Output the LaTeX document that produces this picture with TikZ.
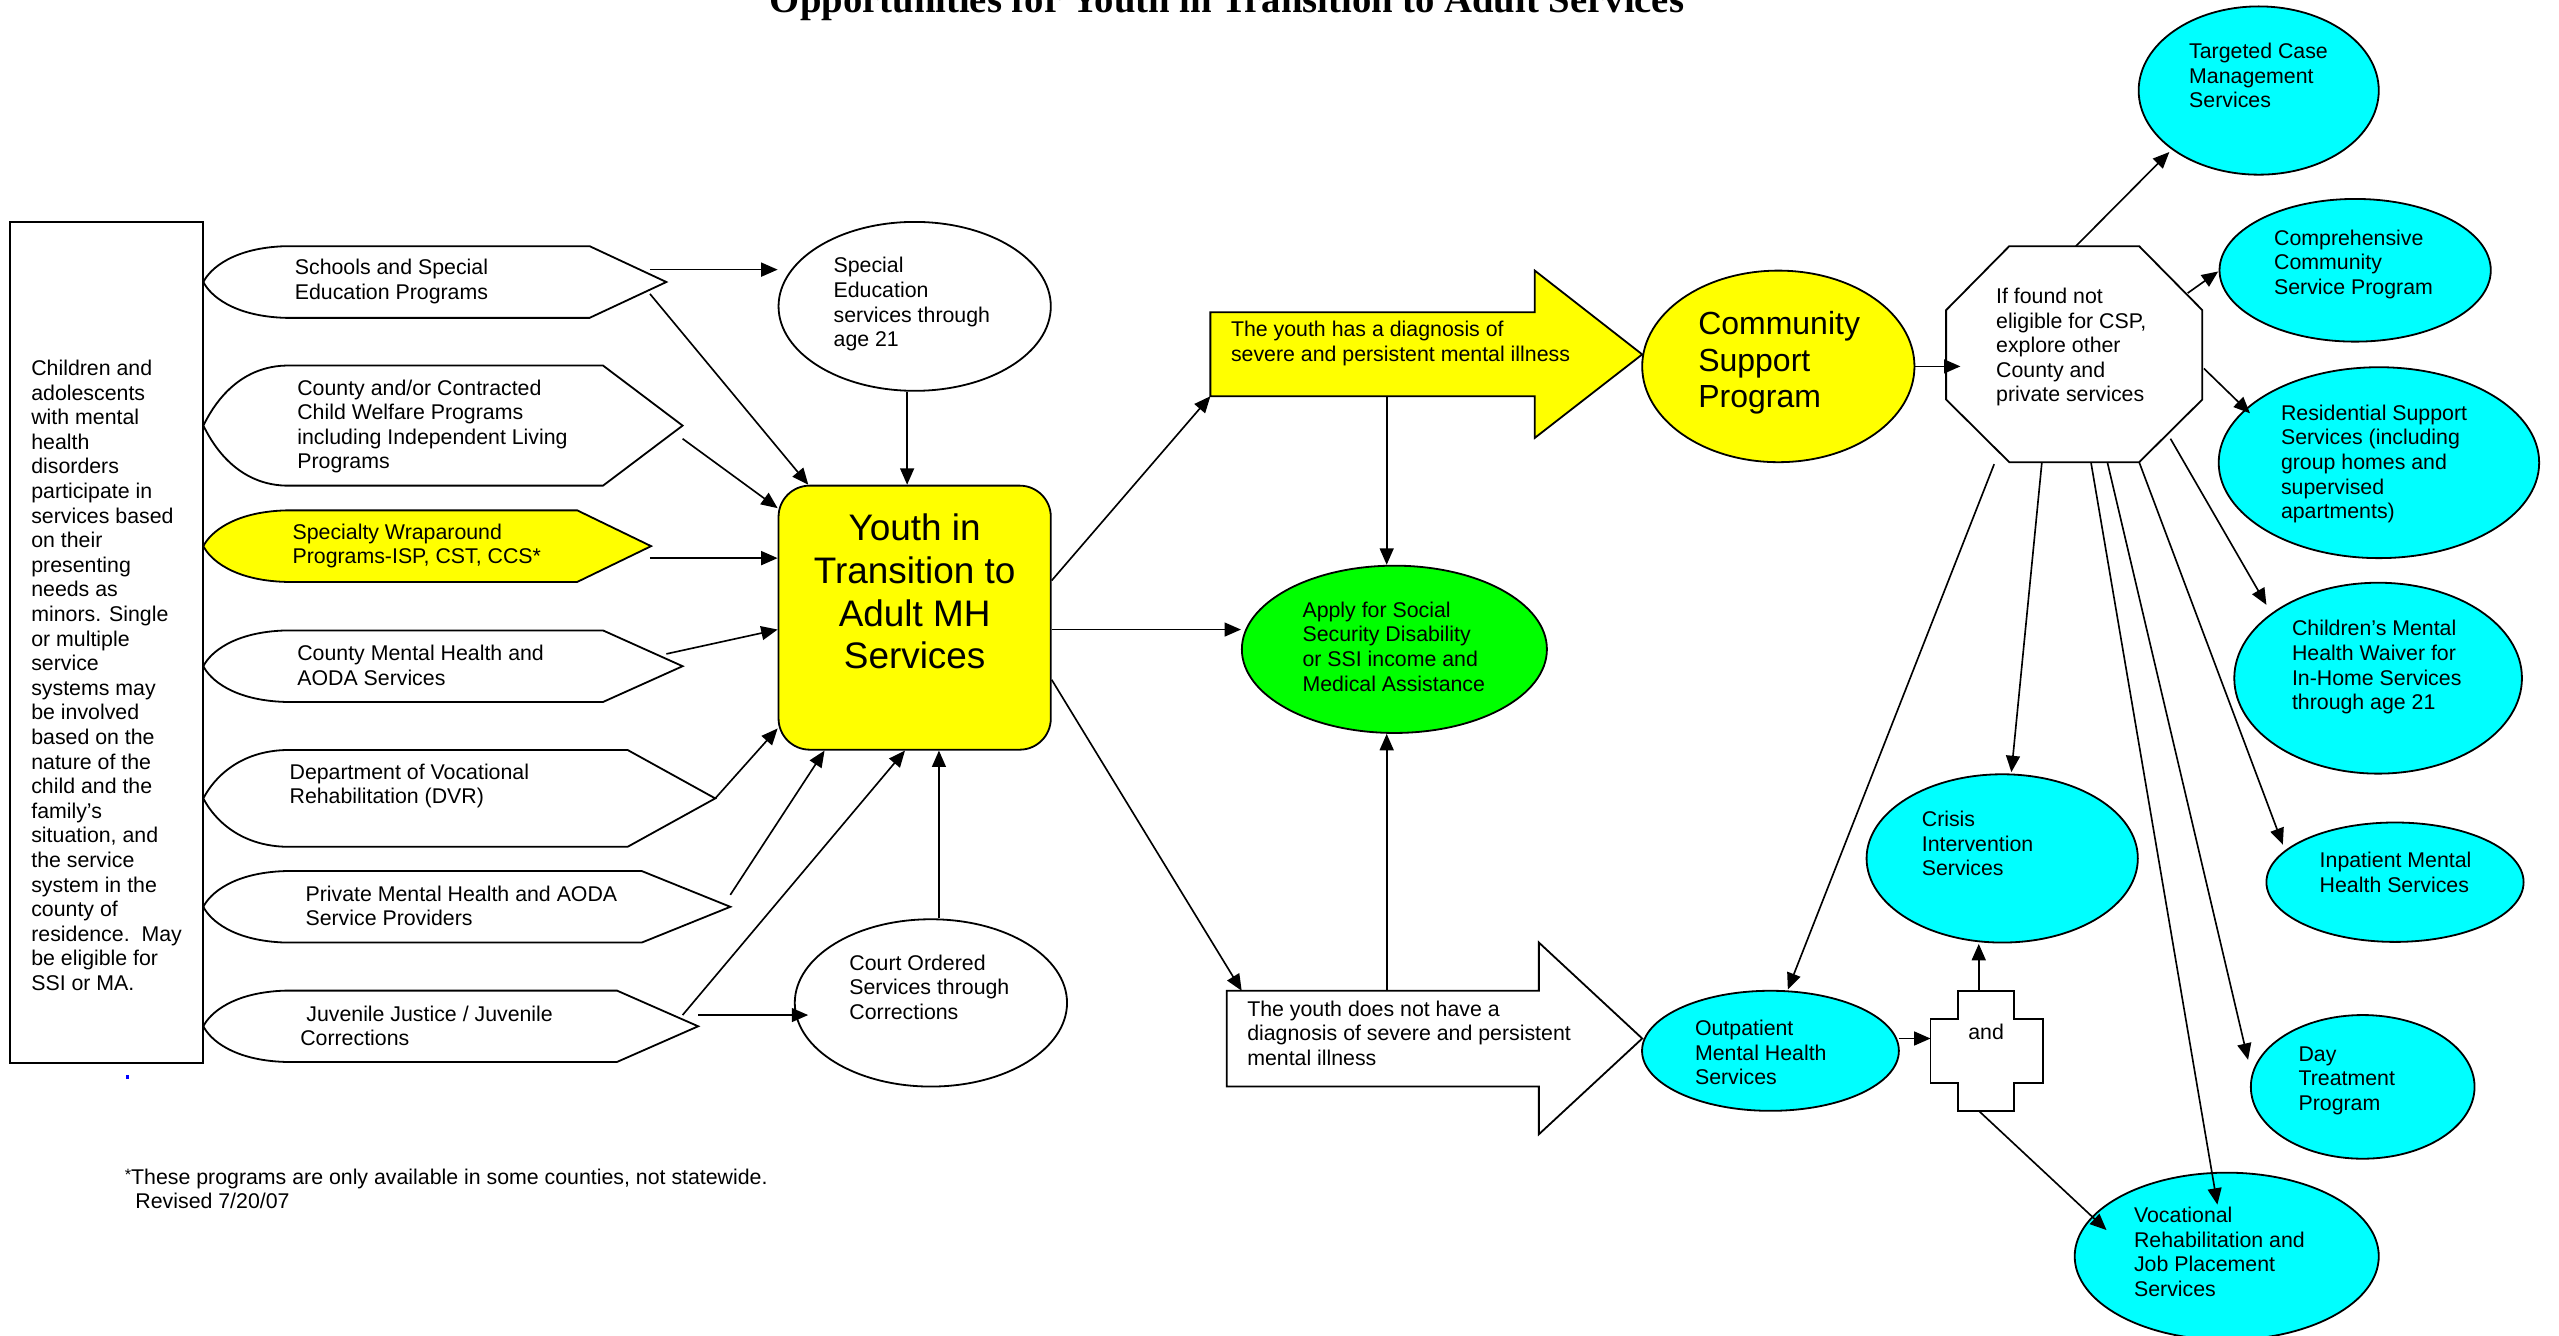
\documentclass[tikz,border=0pt]{standalone}
\usepackage{fontspec}
\setmainfont{Liberation Sans}
\newfontfamily\titlefont{Liberation Serif}
\usetikzlibrary{shapes.geometric,arrows.meta,calc}
\definecolor{ylw}{RGB}{255,255,0}
\definecolor{grn}{RGB}{0,255,0}
\definecolor{cyn}{RGB}{0,255,255}
\newcommand{\drawinshape}[6]{%
  \filldraw[shp, fill=#6] (#4,#2) -- ({#1+50},#2)
    .. controls ({#1+18},{#2+1}) and ({#1+4},{(#2+#3)/2-8}) .. (#1,{(#2+#3)/2})
    .. controls ({#1+4},{(#2+#3)/2+8}) and ({#1+18},{#3-1}) .. ({#1+50},#3)
    -- (#4,#3) -- (#5,{(#2+#3)/2}) -- cycle;}
\begin{document}
\begin{tikzpicture}[x=1pt,y=-1pt,
  txt/.style={align=left,inner sep=0pt,anchor=west,font=\fontsize{13}{15}\selectfont},
  ell/.style={ellipse,draw=black,line width=1.1pt,inner sep=0pt},
  arr/.style={-{Triangle[length=10pt,width=8.5pt]},line width=1pt},
  shp/.style={draw=black,line width=1.1pt,line join=miter}]
\useasboundingbox (0,0) rectangle (1560.3,814);

% title
\node[font=\titlefont\bfseries\fontsize{23.6}{28}\selectfont,anchor=base,inner sep=0pt] (title) at (748.2,7.5) {Opportunities for Youth in Transition to Adult Services};

% left box
\node[draw,line width=1.1pt,minimum width=117.7pt,minimum height=512.7pt,inner sep=0pt] (lbox) at (65.05,391.65) {};
\node[txt] (lboxt) at (18.9,411.8) {Children and\\adolescents\\with mental\\health\\disorders\\participate in\\services based\\on their\\presenting\\needs as\\minors. Single\\or multiple\\service\\systems may\\be involved\\based on the\\nature of the\\child and the\\family’s\\situation, and\\the service\\system in the\\county of\\residence.\ \ May\\be eligible for\\SSI or MA.};
\fill[blue] (76.8,655.6) rectangle (78.4,657.6);

% left input shapes
\drawinshape{124}{150.1}{193.8}{359.5}{406.3}{white}
\drawinshape{124}{222.9}{296.1}{367.7}{416.2}{white}
\drawinshape{124}{311.2}{354.8}{352}{397}{ylw}
\drawinshape{124}{384.4}{428}{367.7}{416.2}{white}
\drawinshape{124}{457.3}{516.3}{382.7}{436.1}{white}
\drawinshape{124}{531.1}{574.7}{391.3}{445.3}{white}
\drawinshape{124}{604}{647.5}{376.2}{425.7}{white}
\node[txt] (s1t) at (179.6,171.8) {Schools and Special\\Education Programs};
\node[txt] (s2t) at (181.1,260) {County and/or Contracted\\Child Welfare Programs\\including Independent Living\\Programs};
\node[txt] (s3t) at (178.2,332.9) {Specialty Wraparound\\Programs-ISP, CST, CCS*};
\node[txt] (s4t) at (181.1,405.8) {County Mental Health and\\AODA Services};
\node[txt] (s5t) at (176.4,479.2) {Department of Vocational\\Rehabilitation (DVR)};
\node[txt] (s6t) at (186.1,552.3) {Private Mental Health and AODA\\Service Providers};
\node[txt] (s7t) at (182.9,625.4) {\hspace{3.7pt}Juvenile Justice / Juvenile\\Corrections};

% central nodes
\node[ell,fill=white,minimum width=166pt,minimum height=103pt] (spec) at (557.7,186.8) {};
\node[txt] (spect) at (508.1,185.5) {Special\\Education\\services through\\age 21};
\node[ell,fill=white,minimum width=166pt,minimum height=102pt] (court) at (567.6,611.5) {};
\node[txt] (courtt) at (517.7,602) {Court Ordered\\Services through\\Corrections};
\node[draw,line width=1.1pt,fill=ylw,rounded corners=19pt,minimum width=166pt,minimum height=161pt,inner sep=0pt] (youth) at (557.7,376.6) {};
\node[font=\fontsize{22.5}{26}\selectfont,align=center,inner sep=0pt] (youtht) at (557.7,360.8) {Youth in\\Transition to\\Adult MH\\Services};

% block arrows
\filldraw[shp,fill=ylw] (738,190.4) -- (935.8,190.4) -- (935.8,165) -- (1001.3,216.1) -- (935.8,267) -- (935.8,241.6) -- (738,241.6) -- cycle;
\node[txt] (spmit) at (750.4,209.4) {The youth has a diagnosis of\\severe and persistent mental illness};
\filldraw[shp,fill=white] (748,604.1) -- (938.3,604.1) -- (938.3,574.7) -- (1001.3,633.2) -- (938.3,691.6) -- (938.3,662.5) -- (748,662.5) -- cycle;
\node[txt] (nspmit) at (760.3,630) {The youth does not have a\\diagnosis of severe and persistent\\mental illness};

\node[ell,fill=grn,minimum width=186pt,minimum height=102pt] (apply) at (850.2,395.9) {};
\node[txt] (applyt) at (794,394.2) {Apply for Social\\Security Disability\\or SSI income and\\Medical Assistance};

\node[ell,fill=ylw,minimum width=166pt,minimum height=116.8pt] (csp) at (1084.3,223.4) {};
\node[txt,font=\fontsize{19.5}{22.4}\selectfont] (cspt) at (1035.3,221.2) {Community\\Support\\Program};

% octagon
\filldraw[shp,fill=white] (1225.1,150.1) -- (1304.3,150.1) -- (1342.8,189.1) -- (1342.8,243.6) -- (1304.3,281.8) -- (1225.1,281.8) -- (1186.6,243.6) -- (1186.6,189.1) -- cycle;
\node[txt] (octt) at (1216.9,211.7) {If found not\\eligible for CSP,\\explore other\\County and\\private services};

% service ellipses
\node[ell,fill=cyn,minimum width=146.4pt,minimum height=102.6pt] (tcm) at (1377.2,55.2) {};
\node[txt] (tcmt) at (1334.6,46.1) {Targeted Case\\Management\\Services};
\node[ell,fill=cyn,minimum width=165.4pt,minimum height=87pt] (ccs) at (1436,164.8) {};
\node[txt] (ccst) at (1386.4,161.2) {Comprehensive\\Community\\Service Program};
\node[ell,fill=cyn,minimum width=195.4pt,minimum height=116.4pt] (res) at (1450.5,282.1) {};
\node[txt] (rest) at (1390.6,282.9) {Residential Support\\Services (including\\group homes and\\supervised\\apartments)};
\node[ell,fill=cyn,minimum width=175.4pt,minimum height=116.4pt] (cmhw) at (1450,413.5) {};
\node[txt] (cmhwt) at (1397.3,406.9) {Children’s Mental\\Health Waiver for\\In-Home Services\\through age 21};
\node[ell,fill=cyn,minimum width=156.8pt,minimum height=72.8pt] (inpat) at (1460.3,537.9) {};
\node[txt] (inpatt) at (1414.2,531.9) {Inpatient Mental\\Health Services};
\node[ell,fill=cyn,minimum width=136.4pt,minimum height=87.6pt] (day) at (1440.6,662.7) {};
\node[txt] (dayt) at (1401.3,659) {Day\\Treatment\\Program};
\node[ell,fill=cyn,minimum width=185.4pt,minimum height=102pt] (voc) at (1357.7,766) {};
\node[txt] (voct) at (1301,763.4) {Vocational\\Rehabilitation and\\Job Placement\\Services};
\node[ell,fill=cyn,minimum width=165.4pt,minimum height=102.6pt] (crisis) at (1220.8,523.4) {};
\node[txt] (crisist) at (1171.6,514.4) {Crisis\\Intervention\\Services};
\node[ell,fill=cyn,minimum width=156.6pt,minimum height=73.2pt] (outp) at (1079.5,640.7) {};
\node[txt] (outpt) at (1033.3,641.7) {Outpatient\\Mental Health\\Services};

% and cross
\filldraw[shp,fill=white] (1194,604.1) -- (1228.1,604.1) -- (1228.1,621.5) -- (1245.5,621.5) -- (1245.5,660.4) -- (1228.1,660.4) -- (1228.1,677.3) -- (1194,677.3) -- (1194,660.4) -- (1177.1,660.4) -- (1177.1,621.5) -- (1194,621.5) -- cycle;
\node[font=\fontsize{13}{15}\selectfont,inner sep=0pt] (andt) at (1211,629.3) {and};

% footnote
\node[txt] (foot) at (75.9,724.9) {\raisebox{2pt}{\fontsize{10}{10}\selectfont *}These programs are only available in some counties, not statewide.\\\hspace{6.5pt}Revised 7/20/07};

% coordinates
\coordinate (s1a) at (396.3,164.4);
\coordinate (s1b) at (396.3,179.2);
\coordinate (s2a) at (416.2,267.5);
\coordinate (s3a) at (396.3,340.3);
\coordinate (s4a) at (406.3,398.7);
\coordinate (s5a) at (436.1,486.8);
\coordinate (s6a) at (445.3,545.6);
\coordinate (s7a) at (416.2,618.9);
\coordinate (s7b) at (425.7,618.9);
\coordinate (yA) at ($(youth.north east)+(0,88.3)$);
\coordinate (spmiBL) at (738,241.6);
\coordinate (spmiB) at (845.5,241.6);
\coordinate (nsTip) at (757.1,604.1);
\coordinate (nsT) at (845.5,604.1);
\coordinate (octW) at (1195.3,223.4);
\coordinate (oTCM) at (1265.7,150.1);
\coordinate (oCCS) at (1333.9,178.7);
\coordinate (oRES) at (1343.8,224.7);
\coordinate (oCMH) at (1323.4,267.5);
\coordinate (oINP) at (1304.3,281.8);
\coordinate (oDAY) at (1284.9,281.8);
\coordinate (oVOC) at (1274.9,281.8);
\coordinate (oCRI) at (1245.0,281.8);
\coordinate (oOUT) at (1215.9,283);
\coordinate (andL) at (1177.1,633.2);
\coordinate (andT) at (1206.5,604.1);
\coordinate (andB) at (1206.5,677.3);

% connectors into youth
\draw[arr] (s1a) -- (s1a -| spec.west);
\draw[arr] (s1b) -- ($(youth.north west)+(18.7,0)$);
\draw[arr] ($(spec.south)+(-4.6,0)$) -- ($(youth.north)+(-4.6,0)$);
\draw[arr] (s2a) -- ($(youth.north west)+(0,14.3)$);
\draw[arr] (s3a) -- (s3a -| youth.west);
\draw[arr] (s4a) -- ($(youth.north west)+(0,88.3)$);
\draw[arr] (s5a) -- ($(youth.south west)+(0,-13.5)$);
\draw[arr] (s6a) -- ($(youth.south west)+(28.6,0)$);
\draw[arr] (s7a) -- ($(youth.south)+(-5.9,0)$);
\draw[arr] (s7b) -- ([xshift=8.7pt]s7b -| court.west);
\draw[arr] ($(court.north)+(4.9,0)$) -- ($(youth.south)+(14.8,0)$);

% connectors out of youth
\draw[arr] ($(youth.north east)+(0,58.4)$) -- (spmiBL);
\draw[arr] (yA) -- (yA -| apply.west);
\draw[arr] ($(youth.north east)+(0,118.9)$) -- (nsTip);
\draw[arr] (spmiB) -- (spmiB |- apply.north);
\draw[arr] (nsT) -- (nsT |- apply.south);

% right side
\draw[arr] (csp.east) -- (octW);
\draw[arr] (oTCM) -- ($(tcm.center)+(-54.5,37.5)$);
\draw[arr] (oCCS) -- ($(ccs.center)+(-83.5,0.7)$);
\draw[arr] (oRES) -- ($(res.center)+(-78.6,-30.1)$);
\draw[arr] (oCMH) -- ($(cmhw.center)+(-68.1,-44.7)$);
\draw[arr] (oINP) -- ($(inpat.center)+(-68.4,-22.9)$);
\draw[arr] (oDAY) -- ($(day.center)+(-69.9,-16.5)$);
\draw[arr] (oVOC) -- ($(voc.center)+(-5.7,-31.5)$);
\draw[arr] (oCRI) -- ($(crisis.center)+(5.6,-52.6)$);
\draw[arr] (oOUT) -- ($(outp.center)+(10.6,-37.4)$);
\draw[arr] ($(outp.center)+(78.3,-7.5)$) -- (andL);
\draw[arr] (andT) -- ($(crisis.center)+(-14.3,52.1)$);
\draw[arr] (andB) -- ($(voc.center)+(-73.3,-16)$);
\end{tikzpicture}
\end{document}
